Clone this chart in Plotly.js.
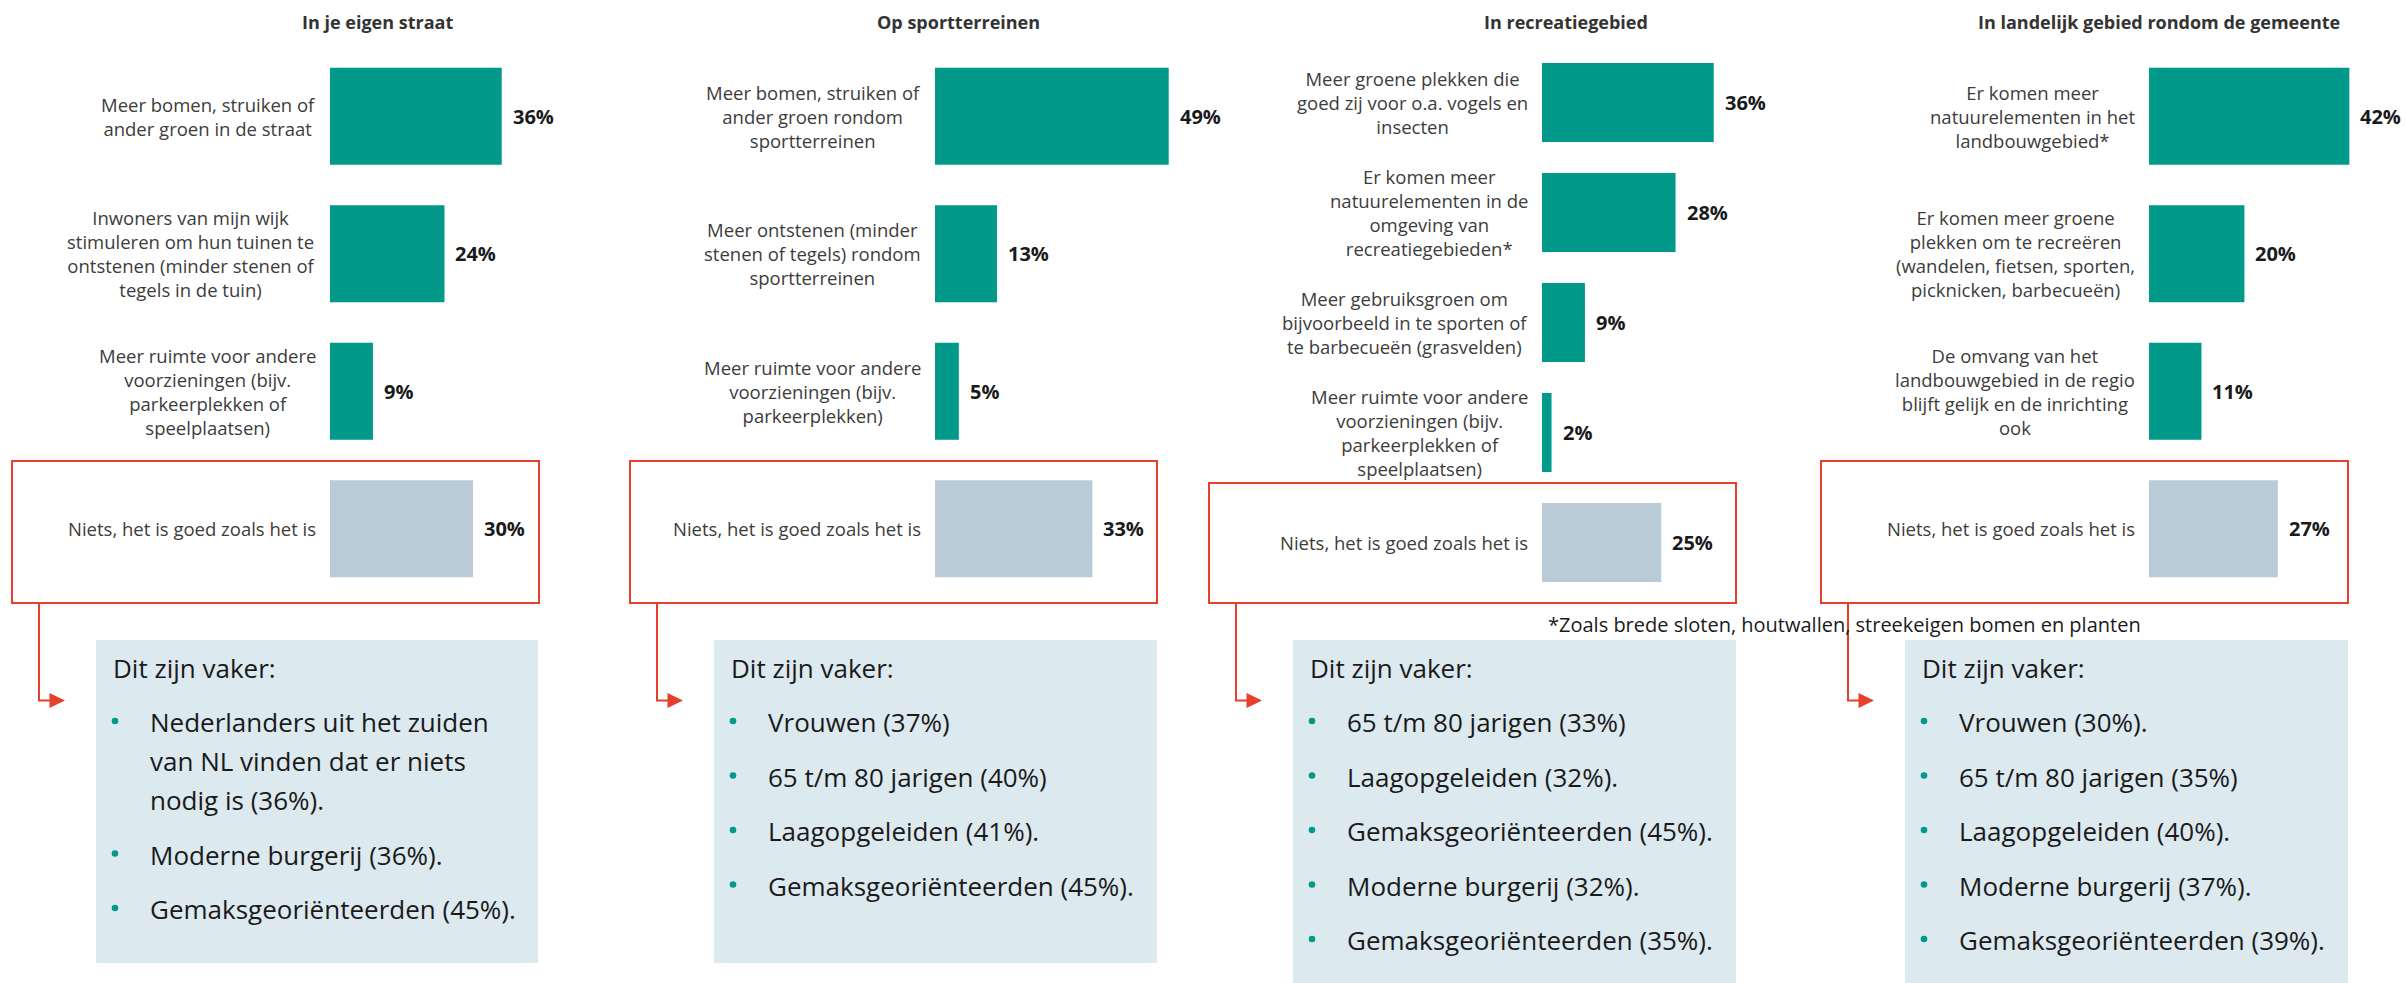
<!DOCTYPE html>
<html><head><meta charset="utf-8">
<script src="https://cdn.plot.ly/plotly-3.0.1.min.js"></script>
<style>html,body{margin:0;padding:0;background:#fff;}#chart{width:2405px;height:983px;}</style>
</head><body><div id="chart"></div>
<script>
// ---------- DATA ----------
const titles = ["In je eigen straat", "Op sportterreinen", "In recreatiegebied", "In landelijk gebied rondom de gemeente"];

const labels1 = [["Meer bomen, struiken of", "ander groen in de straat"],
                 ["Inwoners van mijn wijk", "stimuleren om hun tuinen te", "ontstenen (minder stenen of", "tegels in de tuin)"],
                 ["Meer ruimte voor andere", "voorzieningen (bijv.", "parkeerplekken of", "speelplaatsen)"],
                 ["Niets, het is goed zoals het is"]];
const values1 = [36, 24, 9, 30];

const labels2 = [["Meer bomen, struiken of", "ander groen rondom", "sportterreinen"],
                 ["Meer ontstenen (minder", "stenen of tegels) rondom", "sportterreinen"],
                 ["Meer ruimte voor andere", "voorzieningen (bijv.", "parkeerplekken)"],
                 ["Niets, het is goed zoals het is"]];
const values2 = [49, 13, 5, 33];

const labels3 = [["Meer groene plekken die", "goed zij voor o.a. vogels en", "insecten"],
                 ["Er komen meer", "natuurelementen in de", "omgeving van", "recreatiegebieden*"],
                 ["Meer gebruiksgroen om", "bijvoorbeeld in te sporten of", "te barbecueën (grasvelden)"],
                 ["Meer ruimte voor andere", "voorzieningen (bijv.", "parkeerplekken of", "speelplaatsen)"],
                 ["Niets, het is goed zoals het is"]];
const values3 = [36, 28, 9, 2, 25];

const labels4 = [["Er komen meer", "natuurelementen in het", "landbouwgebied*"],
                 ["Er komen meer groene", "plekken om te recreëren", "(wandelen, fietsen, sporten,", "picknicken, barbecueën)"],
                 ["De omvang van het", "landbouwgebied in de regio", "blijft gelijk en de inrichting", "ook"],
                 ["Niets, het is goed zoals het is"]];
const values4 = [42, 20, 11, 27];

const infoHeader = "Dit zijn vaker:";
const info1 = [["Nederlanders uit het zuiden", "van NL vinden dat er niets", "nodig is (36%)."],
               ["Moderne burgerij (36%)."],
               ["Gemaksgeoriënteerden (45%)."]];
const info2 = [["Vrouwen (37%)"], ["65 t/m 80 jarigen (40%)"], ["Laagopgeleiden (41%)."], ["Gemaksgeoriënteerden (45%)."]];
const info3 = [["65 t/m 80 jarigen (33%)"], ["Laagopgeleiden (32%)."], ["Gemaksgeoriënteerden (45%)."], ["Moderne burgerij (32%)."], ["Gemaksgeoriënteerden (35%)."]];
const info4 = [["Vrouwen (30%)."], ["65 t/m 80 jarigen (35%)"], ["Laagopgeleiden (40%)."], ["Moderne burgerij (37%)."], ["Gemaksgeoriënteerden (39%)."]];

const footnote = "*Zoals brede sloten, houtwallen, streekeigen bomen en planten";

// ---------- STYLE / GEOMETRY ----------
const W = 2405, H = 983;
const FONT = '"Open Sans", "Noto Sans", sans-serif';
const TEAL = '#00998a', GREY = '#b8cbd6', RED = '#e63f2c', BOXFILL = '#dce9ef';
const panels = [
  {labels: labels1, values: values1, info: info1, barStart: 330, titleX: 377, red: [12, 539, 461, 603], box: [96, 538, 640, 963]},
  {labels: labels2, values: values2, info: info2, barStart: 935, titleX: 958, red: [630, 1157, 461, 603], box: [714, 1157, 640, 963]},
  {labels: labels3, values: values3, info: info3, barStart: 1542, titleX: 1566, red: [1209, 1736, 483, 603], box: [1293, 1736, 640, 983]},
  {labels: labels4, values: values4, info: info4, barStart: 2149, titleX: 2159, red: [1821, 2348, 461, 603], box: [1905, 2348, 640, 983]}
];
const XMAX = 50, PXPER = 4.77;
const Y_TOP = 47.5, Y_BOT = 597.5;
const LABEL_SIZE = 18.5, LABEL_GAP = 12;

const px = x => x / W;
const py = y => 1 - y / H;

const data = [];
const annotations = [];
const shapes = [];
const layout = {
  width: W, height: H,
  margin: {l: 0, r: 0, t: 0, b: 0},
  paper_bgcolor: '#fff', plot_bgcolor: 'rgba(0,0,0,0)',
  showlegend: false, hovermode: false,
  font: {family: FONT, color: '#333'}
};

panels.forEach((p, k) => {
  const sfx = k === 0 ? '' : String(k + 1);
  const xa = 'x' + sfx, ya = 'y' + sfx;
  const n = p.values.length;
  const cats = p.labels.map(l => l.join(' '));
  const pitch = (Y_BOT - Y_TOP) / n;
  const barH = n === 5 ? 79 : 97;
  data.push({
    type: 'bar', orientation: 'h', x: p.values, y: cats,
    xaxis: xa, yaxis: ya,
    width: p.values.map(() => barH / pitch),
    marker: {color: p.values.map((v, i) => i === n - 1 ? GREY : TEAL), line: {width: 0}},
    hoverinfo: 'skip', textposition: 'none'
  });
  layout['xaxis' + sfx] = {
    domain: [px(p.barStart), px(p.barStart + XMAX * PXPER)], range: [0, XMAX],
    showgrid: false, zeroline: false, showticklabels: false, showline: false, ticks: '',
    anchor: ya, fixedrange: true
  };
  layout['yaxis' + sfx] = {
    domain: [py(Y_BOT), py(Y_TOP)], type: 'category', range: [n - 0.5, -0.5],
    showgrid: false, zeroline: false, showticklabels: false, showline: false, ticks: '',
    anchor: xa, fixedrange: true
  };
  // value labels
  p.values.forEach((v, i) => {
    annotations.push({xref: xa, yref: ya, x: v, y: i, xanchor: 'left', yanchor: 'middle', xshift: 9,
      text: v + '%', showarrow: false, font: {family: FONT, size: 20, color: '#1a1a1a', weight: 'bold'}});
  });
  // category labels: right-aligned block, centred lines
  p.labels.forEach((lines, i) => {
    annotations.push({xref: xa, yref: ya, x: 0, y: i, xanchor: 'right', yanchor: 'middle', align: 'center',
      xshift: -LABEL_GAP, text: lines.join('<br>'), showarrow: false,
      font: {family: FONT, size: LABEL_SIZE, color: '#3c3c3c'}});
  });
  // title
  annotations.push({xref: 'paper', yref: 'paper', x: px(p.titleX), y: py(22), xanchor: 'center', yanchor: 'middle',
    text: '<b>' + titles[k] + '</b>', showarrow: false, font: {family: FONT, size: 18, color: '#333'}});
  // red frame
  const [rx0, rx1, ry0, ry1] = p.red;
  shapes.push({type: 'rect', xref: 'paper', yref: 'paper', x0: px(rx0), x1: px(rx1), y0: py(ry0), y1: py(ry1),
    line: {color: RED, width: 2}, fillcolor: 'rgba(0,0,0,0)'});
  // connector + arrow
  const cx = rx0 + 27, ay = 700.5;
  shapes.push({type: 'path', xref: 'paper', yref: 'paper',
    path: `M ${px(cx)},${py(ry1)} L ${px(cx)},${py(ay)} L ${px(cx + 11)},${py(ay)}`,
    line: {color: RED, width: 2}});
  shapes.push({type: 'path', xref: 'paper', yref: 'paper',
    path: `M ${px(cx + 10.5)},${py(ay - 7.5)} L ${px(cx + 26)},${py(ay)} L ${px(cx + 10.5)},${py(ay + 7.5)} Z`,
    fillcolor: RED, line: {color: RED, width: 0}});
  // info box
  const [bx0, bx1, by0, by1] = p.box;
  shapes.push({type: 'rect', xref: 'paper', yref: 'paper', x0: px(bx0), x1: px(bx1), y0: py(by0), y1: py(by1),
    fillcolor: BOXFILL, line: {width: 0}, layer: 'below'});
  annotations.push({xref: 'paper', yref: 'paper', x: px(bx0 + 15), y: py(668), xanchor: 'left', yanchor: 'middle',
    text: infoHeader, showarrow: false, font: {family: FONT, size: 26, color: '#1a1a1a'}});
  let yy = 722;
  p.info.forEach((lines) => {
    shapes.push({type: 'circle', xref: 'paper', yref: 'paper',
      x0: px(bx0 + 19 - 3.3), x1: px(bx0 + 19 + 3.3), y0: py(yy - 1 - 3.3), y1: py(yy - 1 + 3.3),
      fillcolor: TEAL, line: {width: 0}});
    lines.forEach((t, j) => {
      annotations.push({xref: 'paper', yref: 'paper', x: px(bx0 + 51.5), y: py(yy), xanchor: 'left', yanchor: 'middle',
        text: t, showarrow: false, font: {family: FONT, size: 26, color: '#1a1a1a'}});
      if (j < lines.length - 1) yy += 39;
    });
    yy += 54.5;
  });
});

annotations.push({xref: 'paper', yref: 'paper', x: px(1844), y: py(624), xanchor: 'center', yanchor: 'middle',
  text: footnote, showarrow: false, font: {family: FONT, size: 20, color: '#1a1a1a'}});

layout.annotations = annotations;
layout.shapes = shapes;

Plotly.newPlot('chart', data, layout, {displayModeBar: false, staticPlot: true});
</script>
</body></html>
